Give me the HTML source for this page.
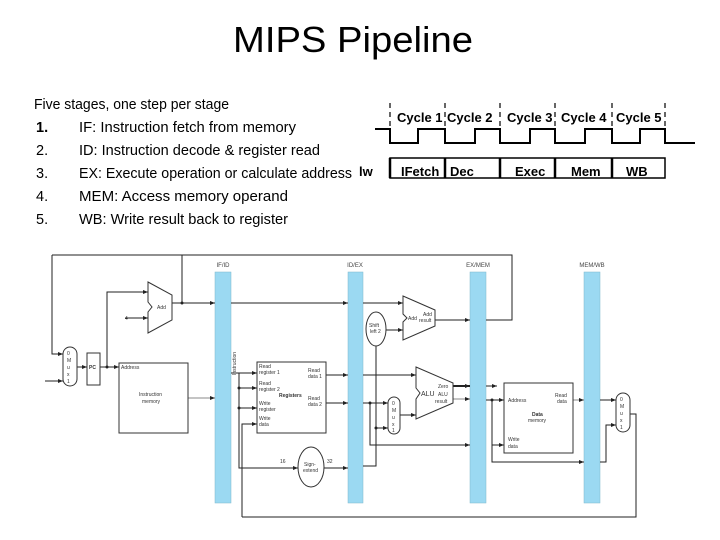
<!DOCTYPE html>
<html><head><style>
html,body{margin:0;padding:0;background:#fff;}
svg{display:block;}
.t{font-family:"Liberation Sans",sans-serif;}
</style></head><body>
<svg width="720" height="540" viewBox="0 0 720 540" xmlns="http://www.w3.org/2000/svg" class="t">
<defs><marker id="a" markerWidth="5" markerHeight="4" refX="5" refY="2" orient="auto" markerUnits="userSpaceOnUse"><path d="M0,0 L5,2 L0,4 z" fill="#222"/></marker></defs>
<text x="353" y="52" font-size="36" text-anchor="middle" textLength="240" lengthAdjust="spacingAndGlyphs">MIPS Pipeline</text>
<g font-size="14.5">
<text x="34" y="109" textLength="195" lengthAdjust="spacingAndGlyphs">Five stages, one step per stage</text>
<text x="36" y="132" font-weight="bold">1.</text><text x="79" y="132" textLength="217" lengthAdjust="spacingAndGlyphs">IF: Instruction fetch from memory</text>
<text x="36" y="155">2.</text><text x="79" y="155" textLength="241" lengthAdjust="spacingAndGlyphs">ID: Instruction decode &amp; register read</text>
<text x="36" y="178">3.</text><text x="79" y="178" textLength="273" lengthAdjust="spacingAndGlyphs">EX: Execute operation or calculate address</text>
<text x="36" y="201">4.</text><text x="79" y="201" textLength="209" lengthAdjust="spacingAndGlyphs">MEM: Access memory operand</text>
<text x="36" y="224">5.</text><text x="79" y="224" textLength="209" lengthAdjust="spacingAndGlyphs">WB: Write result back to register</text>
</g>
<polyline fill="none" stroke="#000" stroke-width="2" points="375,129 390,129 390,143 418,143 418,129 445,129 445,143 475,143 475,129 500,129 500,143 530,143 530,129 555,129 555,143 585,143 585,129 612,129 612,143 640,143 640,129 665,129 665,143 695,143"/>
<g stroke="#000" stroke-width="1.2" stroke-dasharray="5,4">
<line x1="390" y1="103" x2="390" y2="129"/><line x1="445" y1="103" x2="445" y2="129"/><line x1="500" y1="103" x2="500" y2="129"/><line x1="555" y1="103" x2="555" y2="129"/><line x1="612" y1="103" x2="612" y2="129"/><line x1="665" y1="103" x2="665" y2="129"/>
</g>
<g font-size="13" font-weight="bold">
<text x="397" y="122">Cycle 1</text><text x="447" y="122">Cycle 2</text><text x="507" y="122">Cycle 3</text><text x="561" y="122">Cycle 4</text><text x="616" y="122">Cycle 5</text>
</g>
<rect x="390" y="158" width="275" height="20" fill="none" stroke="#000" stroke-width="1.5"/>
<g stroke="#000" stroke-width="2.5"><line x1="390" y1="158" x2="390" y2="178"/><line x1="445" y1="158" x2="445" y2="178"/><line x1="500" y1="158" x2="500" y2="178"/><line x1="555" y1="158" x2="555" y2="178"/><line x1="612" y1="158" x2="612" y2="178"/></g>
<g font-size="13" font-weight="bold">
<text x="359" y="176">lw</text><text x="401" y="176">IFetch</text><text x="450" y="176">Dec</text><text x="515" y="176">Exec</text><text x="571" y="176">Mem</text><text x="626" y="176">WB</text>
</g>
<g fill="#9bd9f2" stroke="#7fb8cc" stroke-width="0.5">
<rect x="215" y="272" width="16" height="231"/><rect x="348" y="272" width="15" height="231"/><rect x="470" y="272" width="16" height="231"/><rect x="584" y="272" width="16" height="231"/>
</g>
<g font-size="6" fill="#444" text-anchor="middle"><text x="223" y="267">IF/ID</text><text x="355" y="267">ID/EX</text><text x="478" y="267">EX/MEM</text><text x="592" y="267">MEM/WB</text></g>
<g fill="none" stroke="#222" stroke-width="1">
<polyline points="182,303 182,255 512,255 512,320 486,320"/>
<polyline points="52,255 182,255"/>
<g marker-end="url(#a)">
<polyline points="52,255 52,354 63,354"/>
<polyline points="45,381 63,381"/>
<polyline points="77,367 87,367"/>
<polyline points="100,367 119,367"/>
<polyline points="107,367 107,292 148,292"/>
<polyline points="125,318 148,318"/>
<polyline points="172,303 215,303"/>
<polyline points="231,303 348,303"/>
<polyline points="188,398 215,398" stroke="#888"/>
<polyline points="231,373 257,373"/>
<polyline points="239,373 239,468 298,468"/>
<polyline points="239,388 257,388"/><polyline points="239,408 257,408"/>
<polyline points="242,517 242,424 257,424"/>
<polyline points="324,468 348,468"/>
<polyline points="326,375 348,375"/><polyline points="326,403 348,403"/>
<polyline points="363,303 403,303"/><polyline points="376,346 376,428 388,428"/>
<polyline points="385,330 403,330"/>
<polyline points="435,320 470,320"/>
<polyline points="363,375 416,375"/>
<polyline points="363,403 388,403"/><polyline points="370,403 370,445 470,445"/>
<polyline points="400,415 416,415"/>
<polyline points="453,386 470,386" stroke-width="2"/><polyline points="453,399 470,399" stroke="#888"/>
<polyline points="486,386 497,386"/>
<polyline points="486,400 504,400"/><polyline points="492,400 492,445 504,445"/><polyline points="492,445 492,462 584,462"/>
<polyline points="573,400 584,400" stroke="#888"/>
<polyline points="600,400 616,400"/><polyline points="600,462 606,462 606,425 616,425"/>
</g>
<polyline points="363,466 376,466 376,428"/>
<polyline points="630,414 636,414 636,517 242,517"/>
</g>
<g fill="#fff" stroke="#333" stroke-width="1">
<rect x="63" y="347" width="14" height="39" rx="7"/>
<rect x="87" y="353" width="13" height="32"/>
<polygon points="148,282 172,295 172,320 148,333 148,312 152,307 148,302"/>
<rect x="119" y="363" width="69" height="70"/>
<rect x="257" y="362" width="69" height="71"/>
<ellipse cx="311" cy="467" rx="13" ry="20"/>
<polygon points="403,296 435,310 435,326 403,340 403,322 407,318 403,314"/>
<ellipse cx="376" cy="329" rx="10" ry="17"/>
<polygon points="416,367 453,383 453,403 416,419 416,399 420,393 416,388"/>
<rect x="388" y="397" width="12" height="37" rx="6"/>
<rect x="504" y="383" width="69" height="70"/>
<rect x="616" y="393" width="14" height="39" rx="7"/>
</g>
<g fill="#222"><circle cx="107" cy="367" r="1.5"/><circle cx="182" cy="303" r="1.5"/><circle cx="239" cy="388" r="1.5"/><circle cx="239" cy="408" r="1.5"/><circle cx="370" cy="403" r="1.5"/><circle cx="376" cy="428" r="1.5"/><circle cx="492" cy="400" r="1.5"/></g>
<g font-size="5" fill="#333">
<text x="67" y="355">0</text><text x="67" y="362">M</text><text x="67" y="369">u</text><text x="67" y="376">x</text><text x="67" y="383">1</text>
<text x="89" y="369" font-weight="bold">PC</text><text x="121" y="369">Address</text>
<text x="139" y="396">Instruction</text><text x="142" y="403">memory</text>
<text x="157" y="309">Add</text><text x="125" y="320">4</text>
<text x="259" y="368">Read</text><text x="259" y="374">register 1</text><text x="259" y="385">Read</text><text x="259" y="391">register 2</text><text x="279" y="397" font-weight="bold">Registers</text><text x="259" y="405">Write</text><text x="259" y="411">register</text><text x="259" y="420">Write</text><text x="259" y="426">data</text>
<text x="308" y="372">Read</text><text x="308" y="378">data 1</text><text x="308" y="400">Read</text><text x="308" y="406">data 2</text>
<text x="304" y="466">Sign-</text><text x="303" y="472">extend</text><text x="280" y="463">16</text><text x="327" y="463">32</text>
<text x="369" y="327">Shift</text><text x="370" y="333">left 2</text>
<text x="408" y="320">Add</text><text x="423" y="316">Add</text><text x="419" y="322">result</text>
<text x="421" y="396" font-size="7">ALU</text><text x="438" y="388">Zero</text><text x="438" y="396">ALU</text><text x="435" y="403">result</text>
<text x="392" y="405">0</text><text x="392" y="412">M</text><text x="392" y="419">u</text><text x="392" y="426">x</text><text x="392" y="432">1</text>
<text x="508" y="402">Address</text><text x="555" y="397">Read</text><text x="557" y="403">data</text><text x="532" y="416" font-weight="bold">Data</text><text x="528" y="422">memory</text>
<text x="508" y="441">Write</text><text x="508" y="448">data</text>
<text x="620" y="401">0</text><text x="620" y="408">M</text><text x="620" y="415">u</text><text x="620" y="422">x</text><text x="620" y="429">1</text>
</g>
<text x="236" y="375" font-size="5" fill="#333" transform="rotate(-90 236 375)">Instruction</text>
</svg>
</body></html>
